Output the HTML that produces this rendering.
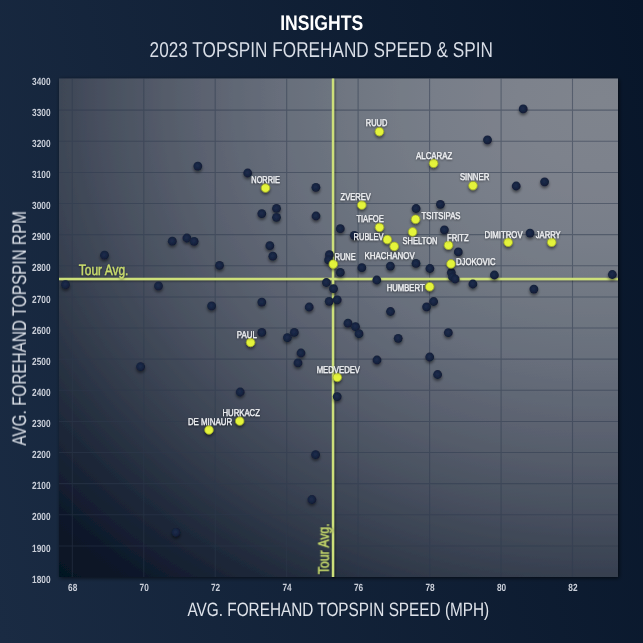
<!DOCTYPE html><html><head><meta charset="utf-8"><title>Insights - 2023 Topspin Forehand Speed &amp; Spin</title>
<style>html,body{margin:0;padding:0;background:#101d36;}body{width:643px;height:643px;overflow:hidden;}svg{display:block;}text{font-family:"Liberation Sans", sans-serif;}svg{text-rendering:geometricPrecision;}</style></head><body>
<svg width="643" height="643" viewBox="0 0 643 643">
<defs>
<linearGradient id="bg" gradientUnits="userSpaceOnUse" x1="643" y1="0" x2="-103" y2="160"><stop offset="0" stop-color="#08162a"/><stop offset="1" stop-color="#1a2b43"/></linearGradient>
<radialGradient id="pg" gradientUnits="userSpaceOnUse" cx="600" cy="100" r="820" gradientTransform="translate(600 100) scale(1 0.8333) translate(-600 -100)"><stop offset="0" stop-color="#7f848d"/><stop offset="0.1" stop-color="#7d828c"/><stop offset="0.2" stop-color="#787e89"/><stop offset="0.3" stop-color="#707782"/><stop offset="0.4" stop-color="#666d7a"/><stop offset="0.5" stop-color="#59606e"/><stop offset="0.6" stop-color="#495160"/><stop offset="0.7" stop-color="#363f4f"/><stop offset="0.8" stop-color="#202a3b"/><stop offset="0.9" stop-color="#0c1729"/><stop offset="0.95" stop-color="#061224"/><stop offset="1" stop-color="#051122"/></radialGradient>
<filter id="ds" x="-50%" y="-50%" width="200%" height="200%"><feGaussianBlur in="SourceAlpha" stdDeviation="1.4"/><feOffset dx="0.3" dy="1.8" result="b"/><feComponentTransfer><feFuncA type="linear" slope="0.5"/></feComponentTransfer><feMerge><feMergeNode/><feMergeNode in="SourceGraphic"/></feMerge></filter>
<filter id="ps" x="-5%" y="-5%" width="110%" height="110%"><feGaussianBlur in="SourceAlpha" stdDeviation="2"/><feOffset dx="0.5" dy="1"/><feComponentTransfer><feFuncA type="linear" slope="0.65"/></feComponentTransfer><feMerge><feMergeNode/><feMergeNode in="SourceGraphic"/></feMerge></filter>
<filter id="ts" x="-10%" y="-30%" width="120%" height="160%"><feGaussianBlur in="SourceAlpha" stdDeviation="0.8"/><feOffset dy="0.6" result="b"/><feComponentTransfer><feFuncA type="linear" slope="0.5"/></feComponentTransfer><feMerge><feMergeNode/><feMergeNode in="SourceGraphic"/></feMerge></filter>
<filter id="nf" x="0" y="0" width="1" height="1"><feOffset dx="0" dy="0"/></filter>
<filter id="ls" x="-5%" y="-5%" width="110%" height="110%"><feGaussianBlur in="SourceAlpha" stdDeviation="1.2"/><feOffset dx="0.8" dy="0.8"/><feComponentTransfer><feFuncA type="linear" slope="0.5"/></feComponentTransfer><feMerge><feMergeNode/><feMergeNode in="SourceGraphic"/></feMerge></filter>
<radialGradient id="dg" cx="0.45" cy="0.45" r="0.55"><stop offset="0" stop-color="#1d2c4b"/><stop offset="0.6" stop-color="#172441"/><stop offset="1" stop-color="#101a31"/></radialGradient>
</defs>
<rect width="643" height="643" fill="url(#bg)"/>
<rect x="59.0" y="78.5" width="559.0" height="498.5" fill="url(#pg)" filter="url(#ps)"/>
<path d="M72.3 78.5V577.0M143.8 78.5V577.0M215.2 78.5V577.0M286.7 78.5V577.0M358.1 78.5V577.0M429.6 78.5V577.0M501.1 78.5V577.0M572.5 78.5V577.0M59.0 545.9H618.0M59.0 514.8H618.0M59.0 483.6H618.0M59.0 452.5H618.0M59.0 421.4H618.0M59.0 390.2H618.0M59.0 359.1H618.0M59.0 328.0H618.0M59.0 296.9H618.0M59.0 265.8H618.0M59.0 234.6H618.0M59.0 203.5H618.0M59.0 172.4H618.0M59.0 141.2H618.0M59.0 110.1H618.0" stroke="#2e394d" stroke-opacity="0.5" stroke-width="1.05" fill="none"/>
<path d="M59.0 279H618.0M333 78.5V577.0" stroke="#cde07a" stroke-width="2.4" fill="none" filter="url(#ls)"/>
<text x="78.8" y="274.9" font-size="15.1" fill="#cadd6c" stroke="#cadd6c" stroke-width="0.35" filter="url(#ts)" textLength="49.6" lengthAdjust="spacingAndGlyphs">Tour Avg.</text>
<text transform="translate(328.7 574.2) rotate(-90)" x="0" y="0" font-size="15.1" fill="#cadd6c" stroke="#cadd6c" stroke-width="0.35" filter="url(#ts)" textLength="50.8" lengthAdjust="spacingAndGlyphs">Tour Avg.</text>
<g fill="url(#dg)" filter="url(#ds)">
<circle cx="197.8" cy="166.1" r="4.4"/>
<circle cx="247.7" cy="173.0" r="4.4"/>
<circle cx="315.9" cy="187.3" r="4.4"/>
<circle cx="276.5" cy="208.4" r="4.4"/>
<circle cx="261.8" cy="213.6" r="4.4"/>
<circle cx="316.0" cy="216.0" r="4.4"/>
<circle cx="276.5" cy="217.3" r="4.4"/>
<circle cx="172.3" cy="241.2" r="4.4"/>
<circle cx="186.9" cy="238.0" r="4.4"/>
<circle cx="194.1" cy="241.3" r="4.4"/>
<circle cx="269.8" cy="245.7" r="4.4"/>
<circle cx="272.8" cy="256.2" r="4.4"/>
<circle cx="219.5" cy="265.4" r="4.4"/>
<circle cx="104.5" cy="255.2" r="4.4"/>
<circle cx="65.5" cy="284.7" r="4.4"/>
<circle cx="158.5" cy="285.9" r="4.4"/>
<circle cx="329.4" cy="254.7" r="4.4"/>
<circle cx="328.6" cy="259.9" r="4.4"/>
<circle cx="340.3" cy="228.7" r="4.4"/>
<circle cx="354.3" cy="235.3" r="4.4"/>
<circle cx="340.3" cy="272.4" r="4.4"/>
<circle cx="361.8" cy="267.7" r="4.4"/>
<circle cx="390.4" cy="266.1" r="4.4"/>
<circle cx="376.8" cy="280.0" r="4.4"/>
<circle cx="326.4" cy="282.5" r="4.4"/>
<circle cx="333.5" cy="288.7" r="4.4"/>
<circle cx="329.2" cy="301.3" r="4.4"/>
<circle cx="337.2" cy="299.8" r="4.4"/>
<circle cx="211.6" cy="305.9" r="4.4"/>
<circle cx="261.8" cy="302.1" r="4.4"/>
<circle cx="309.2" cy="307.0" r="4.4"/>
<circle cx="261.8" cy="332.4" r="4.4"/>
<circle cx="294.3" cy="332.4" r="4.4"/>
<circle cx="287.4" cy="337.6" r="4.4"/>
<circle cx="301.0" cy="353.0" r="4.4"/>
<circle cx="298.0" cy="362.8" r="4.4"/>
<circle cx="140.6" cy="366.7" r="4.4"/>
<circle cx="240.2" cy="392.0" r="4.4"/>
<circle cx="337.2" cy="396.6" r="4.4"/>
<circle cx="315.6" cy="454.7" r="4.4"/>
<circle cx="311.9" cy="499.5" r="4.4"/>
<circle cx="176.0" cy="532.5" r="4.4"/>
<circle cx="440.4" cy="204.3" r="4.4"/>
<circle cx="416.1" cy="208.5" r="4.4"/>
<circle cx="444.4" cy="229.8" r="4.4"/>
<circle cx="458.3" cy="251.9" r="4.4"/>
<circle cx="416.0" cy="263.4" r="4.4"/>
<circle cx="429.9" cy="268.5" r="4.4"/>
<circle cx="451.3" cy="272.5" r="4.4"/>
<circle cx="452.5" cy="277.0" r="4.4"/>
<circle cx="455.2" cy="279.0" r="4.4"/>
<circle cx="494.4" cy="275.0" r="4.4"/>
<circle cx="472.9" cy="284.0" r="4.4"/>
<circle cx="533.9" cy="289.1" r="4.4"/>
<circle cx="612.3" cy="274.5" r="4.4"/>
<circle cx="530.0" cy="233.1" r="4.4"/>
<circle cx="523.2" cy="108.9" r="4.4"/>
<circle cx="487.5" cy="139.8" r="4.4"/>
<circle cx="516.2" cy="186.0" r="4.4"/>
<circle cx="544.6" cy="181.8" r="4.4"/>
<circle cx="390.5" cy="311.5" r="4.4"/>
<circle cx="433.6" cy="301.5" r="4.4"/>
<circle cx="426.6" cy="306.8" r="4.4"/>
<circle cx="348.0" cy="323.2" r="4.4"/>
<circle cx="355.5" cy="326.7" r="4.4"/>
<circle cx="359.0" cy="333.7" r="4.4"/>
<circle cx="398.2" cy="338.3" r="4.4"/>
<circle cx="448.3" cy="332.6" r="4.4"/>
<circle cx="377.0" cy="360.0" r="4.4"/>
<circle cx="429.7" cy="357.0" r="4.4"/>
<circle cx="437.6" cy="374.5" r="4.4"/>
</g>
<g fill="#e4f43a" stroke="#9aa622" stroke-width="0.7" filter="url(#ds)">
<circle cx="379.4" cy="131.6" r="4.3"/>
<circle cx="433.6" cy="163.3" r="4.3"/>
<circle cx="473.0" cy="185.6" r="4.3"/>
<circle cx="265.5" cy="188.0" r="4.3"/>
<circle cx="361.8" cy="205.0" r="4.3"/>
<circle cx="415.6" cy="219.3" r="4.3"/>
<circle cx="379.5" cy="227.3" r="4.3"/>
<circle cx="412.6" cy="231.9" r="4.3"/>
<circle cx="387.3" cy="239.5" r="4.3"/>
<circle cx="394.2" cy="246.4" r="4.3"/>
<circle cx="448.5" cy="245.2" r="4.3"/>
<circle cx="508.2" cy="242.2" r="4.3"/>
<circle cx="551.7" cy="242.2" r="4.3"/>
<circle cx="451.0" cy="263.9" r="4.3"/>
<circle cx="333.3" cy="264.1" r="4.3"/>
<circle cx="429.7" cy="286.7" r="4.3"/>
<circle cx="250.6" cy="342.4" r="4.3"/>
<circle cx="337.3" cy="377.3" r="4.3"/>
<circle cx="239.7" cy="421.0" r="4.3"/>
<circle cx="209.0" cy="429.9" r="4.3"/>
</g>
<g fill="#f2f3f5" stroke="#f2f3f5" stroke-width="0.28" font-size="9.9" filter="url(#ts)">
<text x="365.8" y="126.3" textLength="21.5" lengthAdjust="spacingAndGlyphs">RUUD</text>
<text x="416.1" y="158.6" textLength="36.1" lengthAdjust="spacingAndGlyphs">ALCARAZ</text>
<text x="459.9" y="180.3" textLength="29.4" lengthAdjust="spacingAndGlyphs">SINNER</text>
<text x="251.3" y="182.8" textLength="28.7" lengthAdjust="spacingAndGlyphs">NORRIE</text>
<text x="340.6" y="200.4" textLength="30.2" lengthAdjust="spacingAndGlyphs">ZVEREV</text>
<text x="421.5" y="218.8" textLength="39.0" lengthAdjust="spacingAndGlyphs">TSITSIPAS</text>
<text x="356.4" y="221.8" textLength="27.3" lengthAdjust="spacingAndGlyphs">TIAFOE</text>
<text x="402.6" y="244.0" textLength="34.9" lengthAdjust="spacingAndGlyphs">SHELTON</text>
<text x="353.6" y="240.1" textLength="29.9" lengthAdjust="spacingAndGlyphs">RUBLEV</text>
<text x="364.5" y="258.5" textLength="50.3" lengthAdjust="spacingAndGlyphs">KHACHANOV</text>
<text x="447.1" y="240.5" textLength="21.6" lengthAdjust="spacingAndGlyphs">FRITZ</text>
<text x="484.5" y="237.5" textLength="38.1" lengthAdjust="spacingAndGlyphs">DIMITROV</text>
<text x="535.8" y="237.5" textLength="24.9" lengthAdjust="spacingAndGlyphs">JARRY</text>
<text x="456.0" y="265.4" textLength="39.5" lengthAdjust="spacingAndGlyphs">DJOKOVIC</text>
<text x="334.6" y="259.9" textLength="21.1" lengthAdjust="spacingAndGlyphs">RUNE</text>
<text x="386.7" y="291.2" textLength="37.9" lengthAdjust="spacingAndGlyphs">HUMBERT</text>
<text x="236.8" y="337.6" textLength="20.0" lengthAdjust="spacingAndGlyphs">PAUL</text>
<text x="316.7" y="372.8" textLength="43.3" lengthAdjust="spacingAndGlyphs">MEDVEDEV</text>
<text x="222.5" y="416.2" textLength="37.4" lengthAdjust="spacingAndGlyphs">HURKACZ</text>
<text x="187.9" y="425.4" textLength="44.2" lengthAdjust="spacingAndGlyphs">DE MINAUR</text>
</g>
<g fill="#c9ced8" font-size="10.4" font-weight="bold" text-anchor="end" filter="url(#nf)">
<text x="50.5" y="582.6" textLength="18.4" lengthAdjust="spacingAndGlyphs">1800</text>
<text x="50.5" y="551.5" textLength="18.4" lengthAdjust="spacingAndGlyphs">1900</text>
<text x="50.5" y="520.4" textLength="18.4" lengthAdjust="spacingAndGlyphs">2000</text>
<text x="50.5" y="489.2" textLength="18.4" lengthAdjust="spacingAndGlyphs">2100</text>
<text x="50.5" y="458.1" textLength="18.4" lengthAdjust="spacingAndGlyphs">2200</text>
<text x="50.5" y="427.0" textLength="18.4" lengthAdjust="spacingAndGlyphs">2300</text>
<text x="50.5" y="395.9" textLength="18.4" lengthAdjust="spacingAndGlyphs">2400</text>
<text x="50.5" y="364.7" textLength="18.4" lengthAdjust="spacingAndGlyphs">2500</text>
<text x="50.5" y="333.6" textLength="18.4" lengthAdjust="spacingAndGlyphs">2600</text>
<text x="50.5" y="302.5" textLength="18.4" lengthAdjust="spacingAndGlyphs">2700</text>
<text x="50.5" y="271.4" textLength="18.4" lengthAdjust="spacingAndGlyphs">2800</text>
<text x="50.5" y="240.2" textLength="18.4" lengthAdjust="spacingAndGlyphs">2900</text>
<text x="50.5" y="209.1" textLength="18.4" lengthAdjust="spacingAndGlyphs">3000</text>
<text x="50.5" y="178.0" textLength="18.4" lengthAdjust="spacingAndGlyphs">3100</text>
<text x="50.5" y="146.8" textLength="18.4" lengthAdjust="spacingAndGlyphs">3200</text>
<text x="50.5" y="115.7" textLength="18.4" lengthAdjust="spacingAndGlyphs">3300</text>
<text x="50.5" y="84.6" textLength="18.4" lengthAdjust="spacingAndGlyphs">3400</text>
</g>
<g fill="#c9ced8" font-size="10.4" font-weight="bold" text-anchor="middle" filter="url(#nf)">
<text x="72.7" y="591.4" textLength="9.2" lengthAdjust="spacingAndGlyphs">68</text>
<text x="144.2" y="591.4" textLength="9.2" lengthAdjust="spacingAndGlyphs">70</text>
<text x="215.6" y="591.4" textLength="9.2" lengthAdjust="spacingAndGlyphs">72</text>
<text x="287.1" y="591.4" textLength="9.2" lengthAdjust="spacingAndGlyphs">74</text>
<text x="358.5" y="591.4" textLength="9.2" lengthAdjust="spacingAndGlyphs">76</text>
<text x="430.0" y="591.4" textLength="9.2" lengthAdjust="spacingAndGlyphs">78</text>
<text x="501.5" y="591.4" textLength="9.2" lengthAdjust="spacingAndGlyphs">80</text>
<text x="572.9" y="591.4" textLength="9.2" lengthAdjust="spacingAndGlyphs">82</text>
</g>
<g filter="url(#nf)">
<text x="187.5" y="615.8" font-size="19.4" fill="#dfe3ea" textLength="301.7" lengthAdjust="spacingAndGlyphs">AVG. FOREHAND TOPSPIN SPEED (MPH)</text>
<text transform="translate(25.9 445.6) rotate(-90)" font-size="19.8" fill="#dfe3ea" textLength="234.6" lengthAdjust="spacingAndGlyphs">AVG. FOREHAND TOPSPIN RPM</text>
<text x="280.2" y="29.9" font-size="21.2" font-weight="bold" fill="#ffffff" textLength="83.0" lengthAdjust="spacingAndGlyphs">INSIGHTS</text>
<text x="149.6" y="57.0" font-size="21.6" fill="#d8dde6" textLength="343.4" lengthAdjust="spacingAndGlyphs">2023 TOPSPIN FOREHAND SPEED &amp; SPIN</text>
</g>
</svg></body></html>
